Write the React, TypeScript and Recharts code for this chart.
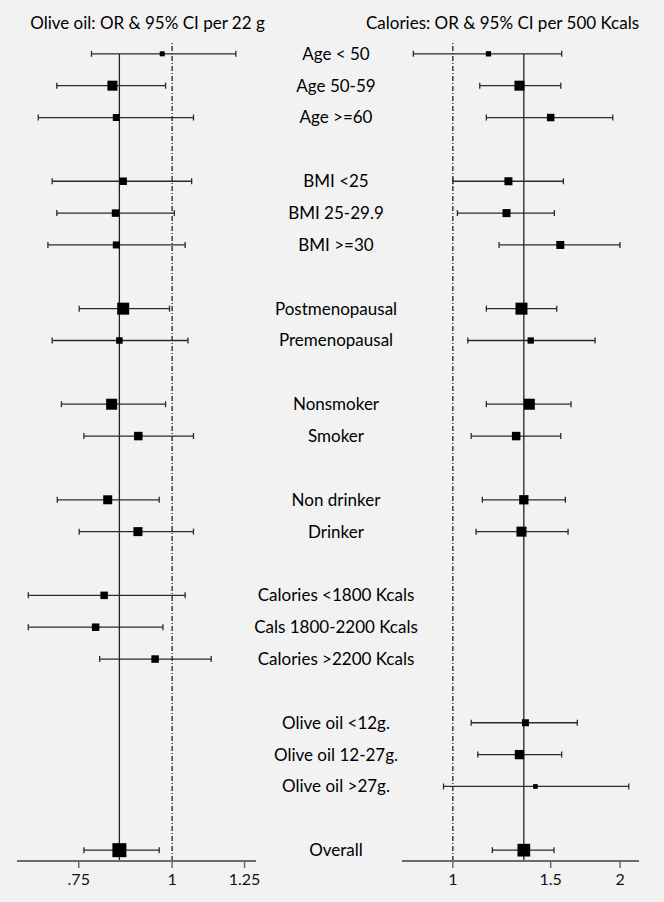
import React from 'react'
import {
  ScatterChart,
  Scatter,
  XAxis,
  YAxis,
  ErrorBar,
  ReferenceLine,
} from 'recharts'

// one entry per row, '' = spacer row between groups
const subgroups = [
  'Age < 50', 'Age 50-59', 'Age >=60', '',
  'BMI <25', 'BMI 25-29.9', 'BMI >=30', '',
  'Postmenopausal', 'Premenopausal', '',
  'Nonsmoker', 'Smoker', '',
  'Non drinker', 'Drinker', '',
  'Calories <1800 Kcals', 'Cals 1800-2200 Kcals', 'Calories >2200 Kcals', '',
  'Olive oil <12g.', 'Olive oil 12-27g.', 'Olive oil >27g.', '',
  'Overall',
]

// Olive oil: OR & 95% CI per 22 g
const oliveOR = [0.97, 0.832, 0.842, null, 0.86, 0.84, 0.842, null, 0.86, 0.85, null, 0.83, 0.901, null, 0.82, 0.9, null, 0.811, 0.79, 0.949, null, null, null, null, null, 0.85]
const oliveLow = [0.78, 0.701, 0.662, null, 0.691, 0.701, 0.682, null, 0.751, 0.691, null, 0.711, 0.762, null, 0.702, 0.751, null, 0.642, 0.642, 0.8, null, null, null, null, null, 0.762]
const oliveHigh = [1.217, 0.98, 1.068, null, 1.062, 1.007, 1.041, null, 0.992, 1.05, null, 0.98, 1.068, null, 0.961, 1.068, null, 1.041, 0.972, 1.128, null, null, null, null, null, 0.961]
const oliveWeight = [5, 10, 7, null, 7.5, 7.5, 7, null, 12, 6.5, null, 11, 8.5, null, 9, 9, null, 7.5, 7.5, 7.5, null, null, null, null, null, 14]

// Calories: OR & 95% CI per 500 Kcals
const calOR = [1.159, 1.318, 1.5, null, 1.259, 1.249, 1.561, null, 1.329, 1.381, null, 1.373, 1.3, null, 1.342, 1.329, null, null, null, null, null, 1.351, 1.318, 1.408, null, 1.342]
const calLow = [0.849, 1.118, 1.149, null, 1.0, 1.019, 1.211, null, 1.149, 1.064, null, 1.149, 1.079, null, 1.13, 1.101, null, null, null, null, null, 1.079, 1.109, 0.962, null, 1.178]
const calHigh = [1.57, 1.564, 1.94, null, 1.581, 1.523, 1.999, null, 1.538, 1.803, null, 1.632, 1.564, null, 1.594, 1.612, null, null, null, null, null, 1.675, 1.57, 2.073, null, 1.521]
const calWeight = [5.3, 10, 7.5, null, 8, 8, 8, null, 12, 6.3, null, 11, 8.5, null, 9.3, 10, null, null, null, null, null, 7, 9.3, 4.7, null, 12.7]

const oliveTicks = [0.75, 1, 1.25]
const oliveTickLabels = ['.75', '1', '1.25']
const calTicks = [1, 1.5, 2]
const calTickLabels = ['1', '1.5', '2']

const rowDomain = [-0.34, subgroups.length - 1 + 0.34]
const labelRows = subgroups.map((s, i) => (s ? i : -1)).filter((i) => i >= 0)

const build = (or, lo, hi, w) =>
  or
    .map((v, i) =>
      v == null ? null : { row: i, or: v, err: [v - lo[i], hi[i] - v], w: w[i] }
    )
    .filter(Boolean)

const oliveData = build(oliveOR, oliveLow, oliveHigh, oliveWeight)
const calData = build(calOR, calLow, calHigh, calWeight)

const Box = (props: any) => {
  const { cx, cy, payload } = props
  const s = payload.w
  return <rect x={cx - s / 2} y={cy - s / 2} width={s} height={s} fill="#000" />
}

const RowLabel = (props: any) => {
  const { x, y, payload } = props
  return (
    <text x={x + 80} y={y} dy="0.35em" textAnchor="middle" fill="#000" fontSize={17}>
      {subgroups[payload.value]}
    </text>
  )
}

const axisStyle = {
  axisLine: { stroke: '#6b6b6b', strokeWidth: 2 },
  tickLine: { stroke: '#6b6b6b', strokeWidth: 1.5 },
  tickSize: 7,
  tickMargin: 6,
  tick: { fill: '#111', fontSize: 16 },
  height: 40,
}

const titleStyle: React.CSSProperties = {
  position: 'absolute',
  top: 14,
  fontSize: 17,
  lineHeight: '17px',
  color: '#000',
  textAlign: 'center',
  whiteSpace: 'nowrap',
}

export default function App() {
  const overallOlive = oliveOR[oliveOR.length - 1] as number
  const overallCal = calOR[calOR.length - 1] as number
  const lastRow = rowDomain[1]

  return (
    <div
      style={{
        position: 'absolute',
        top: 0,
        left: 0,
        width: 664,
        height: 902,
        background: '#f2f2f2',
        fontFamily: 'Lato, sans-serif',
        overflow: 'hidden',
      }}
    >
      <div style={{ ...titleStyle, left: 0, width: 295 }}>Olive oil: OR &amp; 95% CI per 22 g</div>
      <div style={{ ...titleStyle, left: 360, width: 285 }}>Calories: OR &amp; 95% CI per 500 Kcals</div>

      <div style={{ position: 'absolute', left: 0, top: 0 }}>
        <ScatterChart width={420} height={902} margin={{ top: 43, right: 0, bottom: 1, left: 17 }}>
          <XAxis
            type="number"
            dataKey="or"
            scale="log"
            domain={[0.62, 1.295]}
            allowDataOverflow
            ticks={oliveTicks}
            tickFormatter={(v) => oliveTickLabels[oliveTicks.indexOf(v)]}
            {...axisStyle}
          />
          <YAxis
            type="number"
            dataKey="row"
            orientation="right"
            reversed
            domain={rowDomain}
            allowDataOverflow
            ticks={labelRows}
            interval={0}
            width={164}
            axisLine={false}
            tickLine={false}
            tickSize={0}
            tickMargin={0}
            tick={<RowLabel />}
          />
          <ReferenceLine x={1} stroke="#222" strokeWidth={1.3} strokeDasharray="5 2 1 2" />
          <ReferenceLine
            segment={[{ x: overallOlive, y: 0 }, { x: overallOlive, y: lastRow }]}
            stroke="#222"
            strokeWidth={1.3}
          />
          <Scatter data={oliveData} shape={<Box />} isAnimationActive={false}>
            <ErrorBar dataKey="err" direction="x" width={3} stroke="#2a2a2a" strokeWidth={1.3} />
          </Scatter>
        </ScatterChart>
      </div>

      <div style={{ position: 'absolute', left: 380, top: 0 }}>
        <ScatterChart width={284} height={902} margin={{ top: 43, right: 25, bottom: 1, left: 22 }}>
          <XAxis
            type="number"
            dataKey="or"
            scale="log"
            domain={[0.81, 2.163]}
            allowDataOverflow
            ticks={calTicks}
            tickFormatter={(v) => calTickLabels[calTicks.indexOf(v)]}
            {...axisStyle}
          />
          <YAxis type="number" dataKey="row" hide reversed domain={rowDomain} allowDataOverflow />
          <ReferenceLine x={1} stroke="#222" strokeWidth={1.3} strokeDasharray="5 2 1 2" />
          <ReferenceLine
            segment={[{ x: overallCal, y: 0 }, { x: overallCal, y: lastRow }]}
            stroke="#222"
            strokeWidth={1.3}
          />
          <Scatter data={calData} shape={<Box />} isAnimationActive={false}>
            <ErrorBar dataKey="err" direction="x" width={3} stroke="#2a2a2a" strokeWidth={1.3} />
          </Scatter>
        </ScatterChart>
      </div>
    </div>
  )
}
